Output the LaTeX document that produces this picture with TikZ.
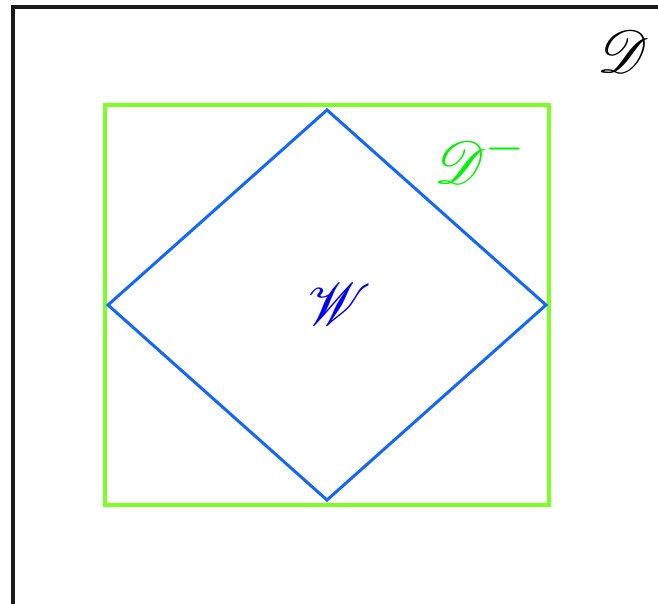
\documentclass[tikz,border=0pt]{standalone}
\usepackage{amsmath,amssymb}
\usepackage{mathrsfs}
\usepackage{tikz}
\usepackage{xcolor}
\definecolor{ink}{HTML}{1A1A1A}
\definecolor{limegreen}{HTML}{80FF26}
\definecolor{puregreen}{HTML}{00F000}
\definecolor{diamondblue}{HTML}{1466FF}
\definecolor{labelblue}{HTML}{0000F5}
\tikzset{
  outerframe/.style={draw=ink,line width=3.5pt},
  innerbox/.style={draw=limegreen,line width=4pt},
  wedge/.style={draw=diamondblue,line width=3pt,line join=miter},
  scrlabel/.style={inner sep=0pt,font=\Huge,scale=2.4}
}

\begin{document}
\begin{tikzpicture}[x=1pt,y=-1pt]
    \path[use as bounding box,fill=white] (0,0) rectangle (658,604);
    \begin{scope}
      \clip (0,0) rectangle (658,604);
      \draw[outerframe] (13,7) rectangle (700,660);
    \end{scope}

    % region D^- and the diamond W inside it
    \draw[innerbox] (105,105) rectangle (549,505);
    \coordinate (top) at (327,110);
    \coordinate (left) at (108,305);
    \coordinate (bottom) at (327,500);
    \coordinate (right) at (546,305);
    \draw[wedge] (top) -- (right) -- (bottom) -- (left) -- cycle;

    \node[scrlabel] (dlabel) at (623,52) {$\mathscr{D}$};
    \node[scrlabel,text=puregreen] (dminus) at (480,158) {$\mathscr{D}^{-}$};
    \node[scrlabel,text=labelblue] (wlabel) at (340,305) {$\mathscr{W}$};
  \end{tikzpicture}
\end{document}
